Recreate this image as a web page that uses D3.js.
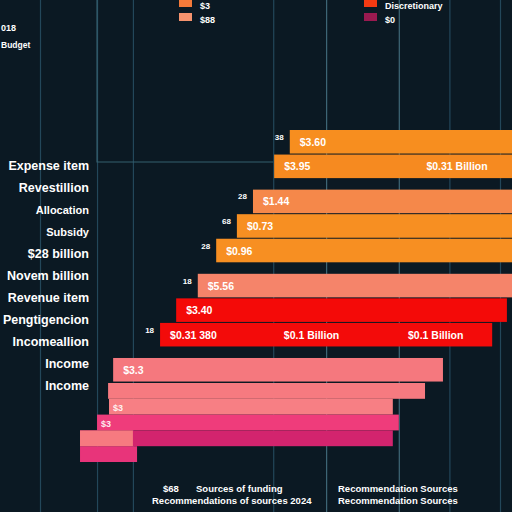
<!DOCTYPE html>
<html>
<head>
<meta charset="utf-8">
<script src="https://cdn.jsdelivr.net/npm/d3@7"></script>
<style>
  body { margin: 0; background: #0b1923; }
  text { font-family: "Liberation Sans", Arial, sans-serif; font-weight: bold; fill: #fff; }
</style>
</head>
<body>
<div id="chart"></div>
<script>
// Main rows (wide bars), in drawing order top to bottom
const rowGroups = ["A", "A", "B", "B", "B", "C", "C", "C", "D"];
const rowStart  = [5.43, 5.09, 4.63, 4.28, 3.83, 3.43, 2.96, 2.61, 1.59];
const rowEnd    = [10.5, 10.5, 10.5, 10.5, 10.5, 10.5, 10.15, 9.83, 8.76];
const rowColors = ["#f78e1f", "#f68a20", "#f5884a", "#f78f22", "#f78f22",
                   "#f5846a", "#f40a08", "#f30b0a", "#f5787e"];
const rowValue  = ["$3.60", "$3.95", "$1.44", "$0.73", "$0.96", "$5.56", "$3.40", "$0.31 380", "$3.3"];
const rowTag    = ["38", "", "28", "68", "28", "18", "", "18", ""];

// Thin stacked rows at the bottom
const thinIds    = ["t1", "t2", "t3", "t4", "t5"];
const thinStart  = [1.48, 1.50, 1.24, 0.87, 0.87];
const thinEnd    = [8.37, 7.67, 7.80, 7.67, 2.11];
const thinColors = ["#f67a80", "#f77f84", "#ef3c7b", "#d3246e", "#e8347a"];
const thinValue  = ["", "$3", "$3", "", ""];

// extra labels inside bars: [row, value position, text]
const extraLabels = [[1, 8.4, "$0.31 Billion"], [7, 5.3, "$0.1 Billion"], [7, 8.0, "$0.1 Billion"]];

// category labels on the left
const categories = ["Expense item", "Revestillion", "Allocation", "Subsidy", "$28 billion",
  "Novem billion", "Revenue item", "Pengtigencion", "Incomeallion", "Income", "Income"];

// vertical grid positions
const gridTicks = [0, 1.24, 2.02, 5.07, 6.22, 7.8, 8.9, 10];

const legendLeft  = [["$3", "#f47a3a"], ["$88", "#f5936e"]];
const legendRight = [["Discretionary", "#f53a12"], ["$0", "#9a1a50"]];

const width = 512, height = 512;

const svg = d3.select("#chart").append("svg")
    .attr("width", width)
    .attr("height", height);

svg.append("rect").attr("width", width).attr("height", height).attr("fill", "#0b1923");

const x = d3.scaleLinear().domain([0, 10]).range([40, 500]);

// gridlines from an axis
svg.append("g")
    .attr("transform", `translate(0,${height})`)
    .call(d3.axisBottom(x).tickValues(gridTicks).tickSize(-height).tickFormat(""))
    .call(g => g.select(".domain").remove())
    .call(g => g.selectAll(".tick line")
        .attr("stroke", (d, i) => (i === 4 || i === 5) ? "#3f6878" : "#23475a")
        .attr("stroke-width", 1.2));

// bracket line near the top
svg.append("path")
    .attr("d", `M${x(1.24)},0V162H${x(5.07)}`)
    .attr("fill", "none")
    .attr("stroke", "#35606f")
    .attr("stroke-width", 1.2);

// y layout: row index plus a gap per group
const groupNames = Array.from(new Set(rowGroups));
const pitch = 24.56, gapRatio = 10.5 / 24.56;
const y = d3.scaleLinear().domain([0, 1]).range([130, 130 + pitch]);
const rowY = rowGroups.map((g, i) => y(i + groupNames.indexOf(g) * gapRatio));
const rowH = y(1) - y(0) - 1;

const rows = rowStart.map((s, i) => ({s, e: rowEnd[i], c: rowColors[i], v: rowValue[i], t: rowTag[i], y: rowY[i]}));

svg.append("g").selectAll("rect").data(rows).join("rect")
    .attr("x", d => x(d.s))
    .attr("y", d => d.y)
    .attr("width", d => x(d.e) - x(d.s))
    .attr("height", rowH)
    .attr("fill", d => d.c);

// thin rows
const yThin = d3.scaleBand().domain(thinIds).range([383, 462]);
const thin = thinIds.map((id, i) => ({id, s: thinStart[i], e: thinEnd[i], c: thinColors[i], v: thinValue[i]}));

svg.append("g").selectAll("rect").data(thin).join("rect")
    .attr("x", d => x(d.s))
    .attr("y", d => yThin(d.id))
    .attr("width", d => x(d.e) - x(d.s))
    .attr("height", yThin.bandwidth())
    .attr("fill", d => d.c);

// light overlay on the left of lower pink rows
svg.append("rect")
    .attr("x", x(0.87)).attr("y", yThin("t4"))
    .attr("width", x(2.02) - x(0.87)).attr("height", yThin.bandwidth())
    .attr("fill", "#f67a80");

// value labels
svg.append("g").selectAll("text").data(rows).join("text")
    .attr("x", d => x(d.s) + 10)
    .attr("y", d => d.y + rowH / 2 + 4)
    .attr("font-size", 10.5)
    .text(d => d.v);

svg.append("g").selectAll("text").data(rows.filter(d => d.t)).join("text")
    .attr("x", d => x(d.s) - 6)
    .attr("y", d => d.y + rowH / 2 - 2)
    .attr("text-anchor", "end")
    .attr("font-size", 8)
    .text(d => d.t);

svg.append("g").selectAll("text").data(thin.filter(d => d.v)).join("text")
    .attr("x", d => x(d.s) + 4)
    .attr("y", d => yThin(d.id) + yThin.bandwidth() / 2 + 4)
    .attr("font-size", 9)
    .attr("fill-opacity", 0.9)
    .text(d => d.v);

svg.append("g").selectAll("text").data(extraLabels).join("text")
    .attr("x", d => x(d[1]))
    .attr("y", d => rowY[d[0]] + rowH / 2 + 4)
    .attr("font-size", 10.5)
    .text(d => d[2]);

// left category labels
const yCat = d3.scalePoint().domain(d3.range(categories.length)).range([166, 386]);
svg.append("g").selectAll("text").data(categories).join("text")
    .attr("x", 89)
    .attr("y", (d, i) => yCat(i) + 4)
    .attr("text-anchor", "end")
    .attr("font-size", (d, i) => (i === 2 || i === 3) ? 11 : 12.5)
    .text(d => d);

// top-left fragments
svg.append("text").attr("x", 1).attr("y", 31).attr("font-size", 9).text("018");
svg.append("text").attr("x", 1).attr("y", 48).attr("font-size", 8.5).text("Budget");

// legends
function legend(items, lx) {
  const g = svg.append("g");
  g.selectAll("rect").data(items).join("rect")
      .attr("x", lx).attr("y", (d, i) => -1 + i * 14)
      .attr("width", 13).attr("height", 8)
      .attr("fill", d => d[1]);
  g.selectAll("text").data(items).join("text")
      .attr("x", lx + 21).attr("y", (d, i) => 9 + i * 14)
      .attr("font-size", 9)
      .text(d => d[0]);
}
legend(legendLeft, 179);
legend(legendRight, 364);

// footer notes
const footer = [
  [163, 492, "$68"], [196, 492, "Sources of funding"],
  [152, 504, "Recommendations of sources 2024"],
  [338, 492, "Recommendation Sources"], [338, 504, "Recommendation Sources"]
];
svg.append("g").selectAll("text").data(footer).join("text")
    .attr("x", d => d[0]).attr("y", d => d[1])
    .attr("font-size", 9.5)
    .text(d => d[2]);
</script>
</body>
</html>
